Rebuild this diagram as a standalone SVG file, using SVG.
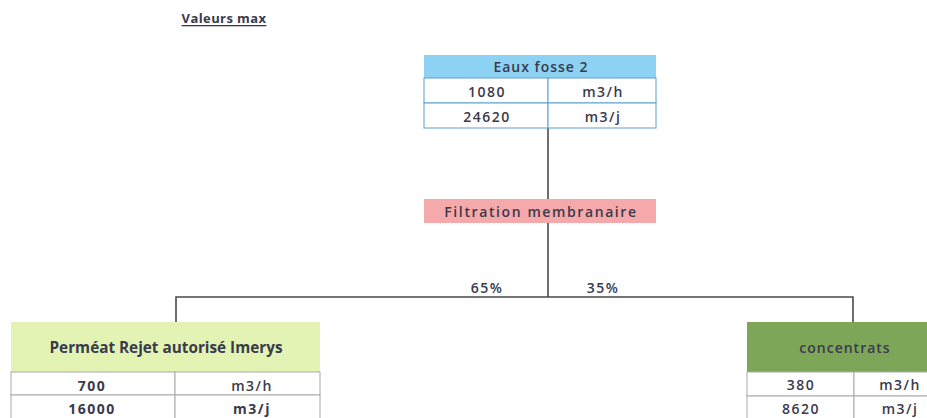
<svg xmlns="http://www.w3.org/2000/svg" width="927" height="418" viewBox="0 0 927 418">
<style>
text{font-family:"Open Sans","Liberation Sans",sans-serif;fill:#3a3a4c;text-anchor:middle;dominant-baseline:central;font-weight:600}
text.b{font-weight:bold}
.v{font-size:14px;letter-spacing:1.5px}
.cell{fill:#ffffff;stroke:#a9a9a9;stroke-width:1}
.conn{stroke:#4a4a4a;stroke-width:1.6;fill:none}
</style>
<rect width="927" height="418" fill="#ffffff"/>
<text class="b" x="224" y="18" font-size="13" fill="#34344a" letter-spacing="0.4" text-decoration="underline">Valeurs max</text>
<g id="connectors">
<path class="conn" d="M548 78 V297"/>
<path class="conn" d="M176 322 V297 H853 V322"/>
</g>
<g id="eaux-fosse">
<rect x="424" y="55" width="232" height="23" fill="#8dd2f3"/>
<rect x="424" y="78" width="124" height="25" fill="#fff" stroke="#5a9fd0"/>
<rect x="548" y="78" width="108" height="25" fill="#fff" stroke="#5a9fd0"/>
<rect x="424" y="103" width="124" height="25" fill="#fff" stroke="#5a9fd0"/>
<rect x="548" y="103" width="108" height="25" fill="#fff" stroke="#5a9fd0"/>
<text x="541" y="66" font-size="14" letter-spacing="1">Eaux fosse 2</text>
<text class="v" x="487" y="91">1080</text>
<text class="v" x="603" y="91">m3/h</text>
<text class="v" x="487" y="116">24620</text>
<text class="v" x="603" y="116">m3/j</text>
</g>
<g id="filtration">
<rect x="424" y="199" width="232" height="24" fill="#f5a9aa"/>
<text x="541" y="211" font-size="14" letter-spacing="1.6">Filtration membranaire</text>
</g>
<g id="percent">
<text class="v" x="487" y="287">65%</text>
<text class="v" x="603" y="287">35%</text>
</g>
<g id="permeat">
<rect x="11" y="322" width="309" height="50" fill="#e2f3b4"/>
<rect class="cell" x="11" y="372" width="164" height="23"/>
<rect class="cell" x="175" y="372" width="145" height="23"/>
<rect class="cell" x="11" y="395" width="164" height="26"/>
<rect class="cell" x="175" y="395" width="145" height="26"/>
<text class="b" x="166" y="347" font-size="15.3" fill="#222230">Perméat Rejet autorisé Imerys</text>
<text class="v b" x="92" y="385" fill="#2a2a35">700</text>
<text class="v" x="252" y="385" fill="#5a5060">m3/h</text>
<text class="v b" x="92" y="408" fill="#3a3a45">16000</text>
<text class="v b" x="252" y="408" fill="#2a2a35">m3/j</text>
</g>
<g id="concentrats">
<rect x="747" y="322" width="195" height="50" fill="#7ea659"/>
<rect class="cell" x="747" y="372" width="107" height="24"/>
<rect class="cell" x="854" y="372" width="88" height="24"/>
<rect class="cell" x="747" y="396" width="107" height="25"/>
<rect class="cell" x="854" y="396" width="88" height="25"/>
<text x="845" y="347" font-size="14" letter-spacing="1" fill="#4a5868">concentrats</text>
<text class="v" x="801" y="384">380</text>
<text class="v" x="900" y="384">m3/h</text>
<text class="v" x="801" y="408">8620</text>
<text class="v" x="900" y="408">m3/j</text>
</g>
</svg>
